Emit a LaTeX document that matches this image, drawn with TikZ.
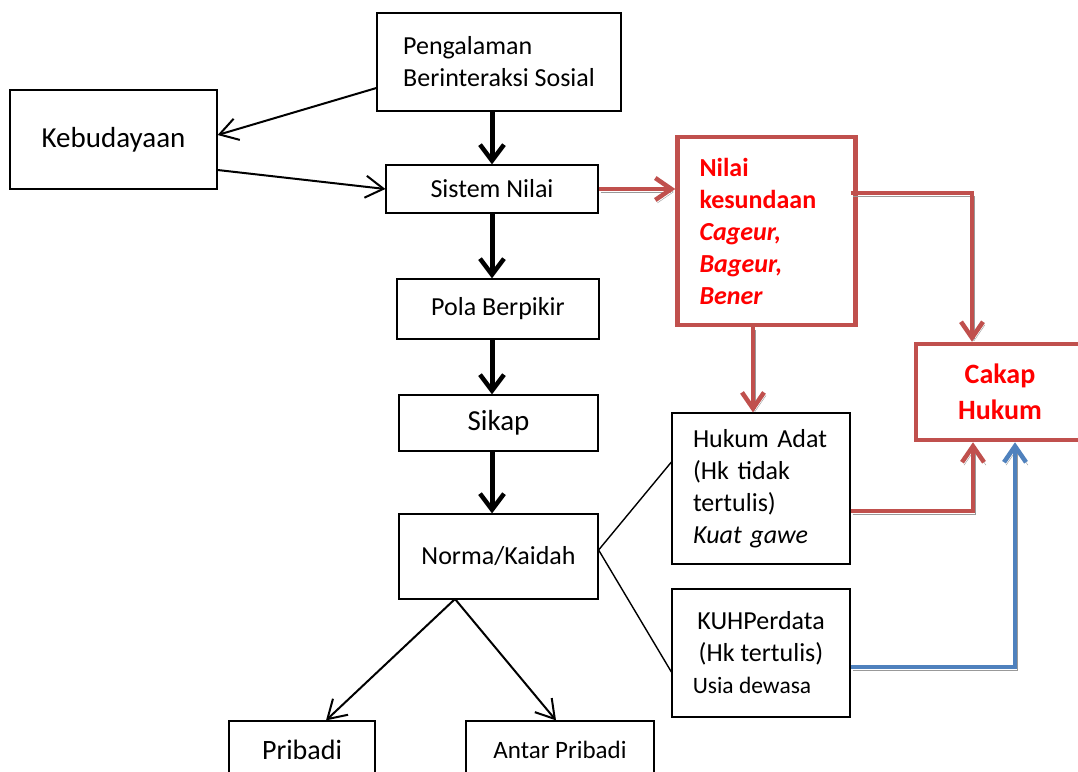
\documentclass[tikz,border=0pt]{standalone}
\usepackage{fontspec}
\setmainfont{Carlito}
\usetikzlibrary{arrows.meta,calc}
\definecolor{hukumred}{HTML}{C0504D}
\definecolor{hukumblue}{HTML}{4F81BD}
\definecolor{textred}{HTML}{FF0000}

\tikzset{
  box/.style={draw, line width=1.2pt, inner sep=0pt, font=\fontsize{26}{32}\selectfont},
  redbox/.style={draw=hukumred, line width=4.5pt, inner sep=0pt, text=textred,
    font=\bfseries\fontsize{26}{32}\selectfont},
  bigarrow/.style={line width=5pt, -{Straight Barb[length=16pt,width=24pt,line width=4.5pt]}},
  thinarrow/.style={line width=2pt, -{Straight Barb[length=18pt,width=22pt,line width=2pt]}},
  shadowed/.style={preaction={draw=black!40, transform canvas={xshift=2pt,yshift=-3pt}}},
  redarrow/.style={draw=hukumred, line width=4.5pt, shadowed,
    -{Straight Barb[length=16pt,width=22pt,line width=4.5pt]}},
  bluearrow/.style={draw=hukumblue, line width=4.5pt, shadowed,
    -{Straight Barb[length=16pt,width=22pt,line width=4.5pt]}}
}

\begin{document}
\begin{tikzpicture}[x=1pt,y=-1pt]
  \clip (0,0) rectangle (1078,771);
  \fill[white] (0,0) rectangle (1078,771);

  % main column
  \node[box, minimum width=244pt, minimum height=98pt, align=left] (peng) at (499,62)
    {Pengalaman\\Berinteraksi Sosial};
  \node[box, minimum width=207pt, minimum height=99pt, font=\fontsize{29}{34}\selectfont] (kebud) at (113.5,139.5) {\raisebox{5pt}{Kebudayaan}};
  \node[box, minimum width=212pt, minimum height=48pt] (sistem) at (492,189) {Sistem Nilai};
  \node[box, minimum width=202pt, minimum height=60pt] (pola) at (498,309) {Pola Berpikir};
  \node[box, minimum width=199pt, minimum height=56pt, font=\fontsize{29}{34}\selectfont] (sikap) at (498.5,423) {Sikap};
  \node[box, minimum width=199pt, minimum height=85pt] (norma) at (498.5,556.5) {Norma/Kaidah};
  \node[box, minimum width=146pt, minimum height=58pt, font=\fontsize{28}{34}\selectfont] (pribadi) at (302,750) {Pribadi};
  \node[box, minimum width=188pt, minimum height=58pt, font=\fontsize{25}{32}\selectfont] (antar) at (560,750) {Antar Pribadi};

  % right side
  \node[redbox, minimum width=178pt, minimum height=188pt, text width=134pt, inner xsep=22pt, align=left] (nilai) at (766.5,231)
    {Nilai\\kesundaan\\\textit{Cageur,}\\\textit{Bageur,}\\\textit{Bener}};
  \node[redbox, minimum width=168pt, minimum height=96pt, align=center, font=\bfseries\fontsize{28}{36}\selectfont] (cakap) at (1000,392)
    {Cakap\\Hukum};
  \node[box, minimum width=178pt, minimum height=151pt, text width=136pt, inner xsep=21pt, align=left] (adat) at (761,488.5)
    {Hukum Adat\\(Hk tidak\\tertulis)\\\textit{Kuat gawe}};
  \node[box, minimum width=178pt, minimum height=128pt, align=center] (kuh) at (761,653)
    {KUHPerdata\\(Hk tertulis)\\{\fontsize{23.5}{30}\selectfont Usia dewasa\hspace*{18pt}}};

  \coordinate (split) at (455,599);

  % black connectors
  \draw[bigarrow] (sistem.north |- peng.south) -- (sistem.north);
  \draw[bigarrow] (sistem.south) -- (sistem.south |- pola.north);
  \draw[bigarrow] (sistem.south |- pola.south) -- (sistem.south |- sikap.north);
  \draw[bigarrow] (sistem.south |- sikap.south) -- (sistem.south |- norma.north);
  \draw[thinarrow] (peng.west |- 0,88) -- (kebud.east |- 0,135);
  \draw[thinarrow] (kebud.east |- 0,170) -- (sistem.west);
  \draw[thinarrow] (split) -- (pribadi.north -| 326,0);
  \draw[thinarrow] (split) -- (antar.north -| 556,0);
  \draw[line width=1.4pt] (norma.east |- 0,550) -- (adat.west |- 0,462);
  \draw[line width=1.4pt] (norma.east |- 0,550) -- (kuh.west |- 0,672);

  % coloured connectors
  \draw[redarrow] (sistem.east) -- (nilai.west |- sistem.east);
  \draw[redarrow] ($(nilai.east |- 0,193)+(-7,0)$) -| ($(cakap.north)+(-28,0)$);
  \draw[redarrow] (nilai.south -| 753,0) -- (adat.north -| 753,0);
  \draw[redarrow] (adat.east |- 0,511) -| ($(cakap.south)+(-27,0)$);
  \draw[bluearrow] (kuh.east |- 0,667) -| ($(cakap.south)+(15,0)$);
\end{tikzpicture}
\end{document}
